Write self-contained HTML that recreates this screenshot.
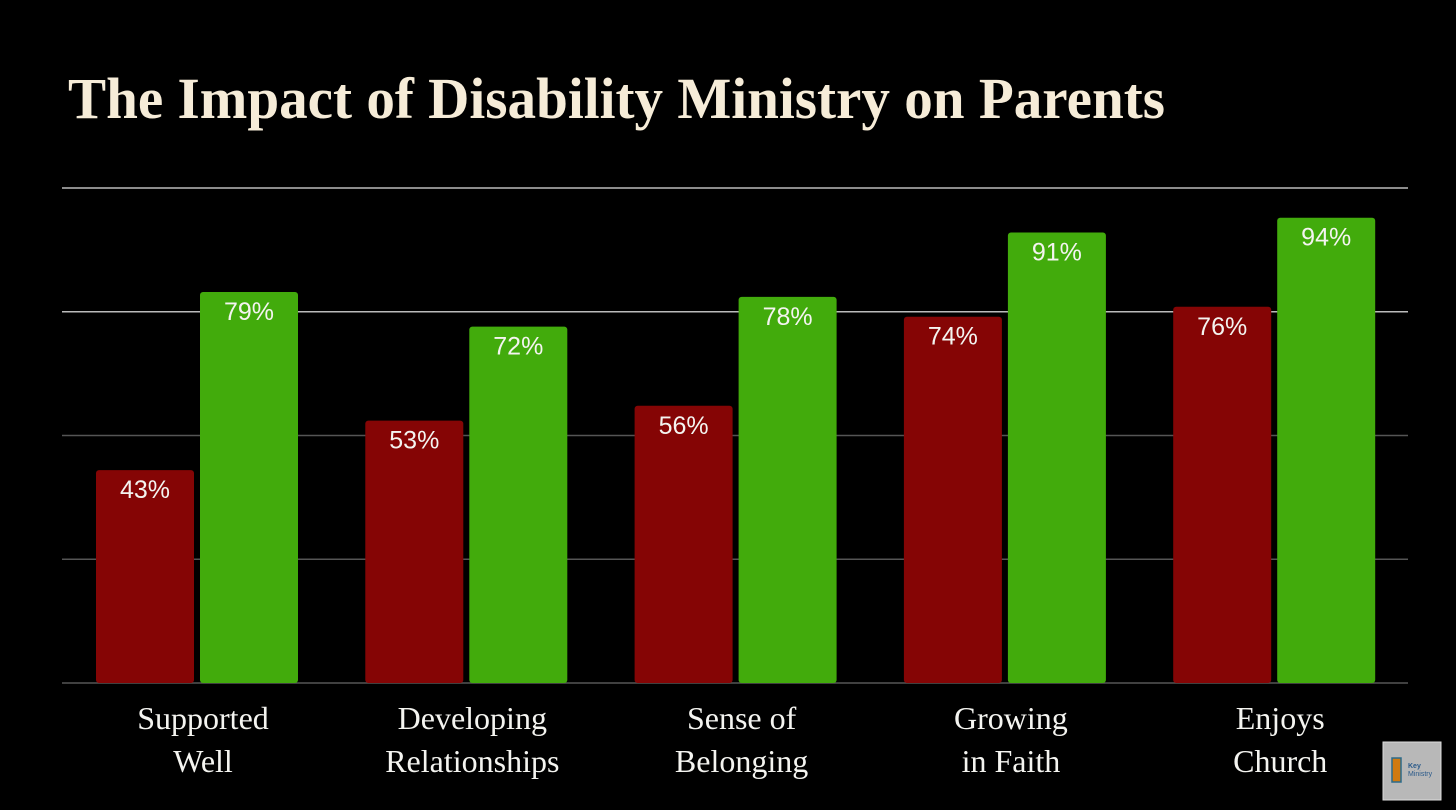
<!DOCTYPE html>
<html><head><meta charset="utf-8"><style>
html,body{margin:0;padding:0;background:#000;}
svg{display:block;}
</style></head><body>
<svg id="chart" width="1456" height="810" viewBox="0 0 1456 810" xmlns="http://www.w3.org/2000/svg">
<rect x="0" y="0" width="1456" height="810" fill="#000"/>
<text x="68" y="118" font-family="Liberation Serif, serif" font-weight="bold" font-size="58" fill="#f6ecd8" textLength="1097" lengthAdjust="spacingAndGlyphs">The Impact of Disability Ministry on Parents</text>
<g id="grid"></g>
<g id="bars"></g>
<g id="labels"></g>
<g>
<rect x="1383" y="742" width="58" height="58" fill="#b8b8b8" stroke="#ddd" stroke-width="1"/>
<rect x="1392" y="758" width="9" height="24" fill="#d07a10" stroke="#2a6a8a" stroke-width="1.5"/>
<text x="1408" y="768" font-family="Liberation Sans, sans-serif" font-size="7" font-weight="bold" fill="#2a5a8a">Key</text>
<text x="1408" y="776" font-family="Liberation Sans, sans-serif" font-size="7" fill="#2a5a8a">Ministry</text>
</g>
</svg>
<script>
const categories = [["Supported","Well"],["Developing","Relationships"],["Sense of","Belonging"],["Growing","in Faith"],["Enjoys","Church"]];
const seriesBefore = [43,53,56,74,76];
const seriesAfter = [79,72,78,91,94];
const gridTicks = [25,50,75,100];

const NS="http://www.w3.org/2000/svg";
const y0=683, y100=188;
function y(v){return y0-(y0-y100)*v/100;}
const firstX=96, groupStep=269.3, barW=98, gap=6;
function gx(i){return firstX+i*groupStep;}
function mk(tag,attrs,parent){const e=document.createElementNS(NS,tag);for(const k in attrs)e.setAttribute(k,attrs[k]);parent.appendChild(e);return e;}

const grid=document.getElementById('grid');
gridTicks.forEach(t=>{
  const l=mk('line',{x1:62,x2:1408,y1:y(t),y2:y(t),stroke:t>=75?'#bbb':'#555','stroke-width':1.5},grid);
  
  
});
const base=mk('line',{x1:62,x2:1408,y1:y0,y2:y0,stroke:'#555','stroke-width':1.5},grid);



const bars=document.getElementById('bars');
const labels=document.getElementById('labels');
categories.forEach((c,i)=>{
  [[seriesBefore[i],'#850505',0,'before'],[seriesAfter[i],'#42ab0c',barW+gap,'after']].forEach(([v,col,off,nm])=>{
    const x=gx(i)+off;
    const r=mk('rect',{x:x,y:y(v),width:barW,height:y0-y(v),rx:3,fill:col},bars);
    
    
    const t=mk('text',{x:x+barW/2,y:y(v)+28,'text-anchor':'middle','font-family':'Liberation Sans, sans-serif','font-size':25,fill:'#f4f4f0'},bars);
    t.textContent=v+'%';
    
    
  });
  const cx=gx(i)+barW+gap/2+6;
  c.forEach((line,j)=>{
    const t=mk('text',{x:cx,y:729+j*43,'text-anchor':'middle','font-family':'Liberation Serif, serif','font-size':32,fill:'#f4f4f0'},labels);
    t.textContent=line;
    
    
  });
});
</script>
</body></html>
